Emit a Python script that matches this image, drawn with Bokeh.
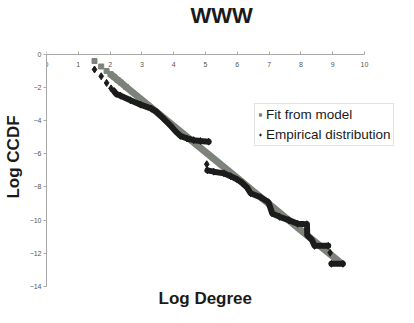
from bokeh.plotting import figure
from bokeh.models import FixedTicker, Range1d, Legend, LegendItem, Title
from bokeh.embed import file_html
from bokeh.resources import INLINE

nan = float("nan")

x_ticks = [0, 1, 2, 3, 4, 5, 6, 7, 8, 9, 10]
y_ticks = [0, -2, -4, -6, -8, -10, -12, -14]

# Fit from model (log degree, log CCDF)
fit_x = [1.51, 1.72, 1.89, 2.01, 2.13, 2.24, 2.34, 2.50, 3.00, 3.50, 4.00, 4.50,
         5.00, 5.50, 6.00, 6.50, 7.00, 7.50, 8.00, 8.50, 9.00, 9.30]
fit_y = [-0.41, -0.74, -1.01, -1.20, -1.38, -1.56, -1.71, -1.97, -2.75, -3.54, -4.32, -5.11,
         -5.89, -6.68, -7.46, -8.25, -9.03, -9.82, -10.61, -11.39, -12.18, -12.65]

# Empirical distribution (nan = break in the trace)
emp_x = [1.51, 1.72, 1.89, 2.03, 2.12, 2.19, 2.33, 2.64, 2.96, 3.30, 3.48, 3.69, 3.90,
         4.06, 4.21, 4.42, 4.63, 4.84, 5.10, nan, 5.04, nan, 5.06, 5.26, 5.58, 5.79,
         6.00, 6.15, 6.31, 6.42, 6.73, 6.98, 7.10, 7.33, 7.62, 7.90, 8.19, 8.20, 8.35,
         8.43, 8.86, nan, 8.92, nan, 8.96, 9.32]
emp_y = [-0.92, -1.33, -1.73, -2.06, -2.22, -2.39, -2.50, -2.78, -3.04, -3.28, -3.50, -3.90, -4.30,
         -4.65, -4.92, -5.08, -5.18, -5.23, -5.27, nan, -6.63, nan, -7.00, -7.08, -7.18, -7.35,
         -7.55, -7.75, -8.04, -8.38, -8.62, -8.92, -9.60, -9.80, -10.00, -10.22, -10.25, -10.90, -11.20,
         -11.55, -11.55, nan, -11.97, nan, -12.63, -12.63]

FONT = "Liberation Sans"
GRAY = "#7d837b"
BLACK = "#1c1c1c"

p = figure(width=398, height=307, output_backend="svg", toolbar_location=None,
           x_range=Range1d(0, 11.07), y_range=Range1d(-14, 1.61), x_axis_location="above",
           min_border_left=38, min_border_right=0, min_border_top=26, min_border_bottom=14,
           title="WWW")
p.grid.visible = False
p.outline_line_color = None
p.background_fill_color = "white"
p.border_fill_color = "white"

p.title.text_font = FONT
p.title.text_font_size = "22px"
p.title.text_font_style = "bold"
p.title.text_color = "#1a1a1a"
p.title.align = "left"
p.title.offset = 144
p.title.standoff = 0

xa = p.xaxis[0]
xa.ticker = FixedTicker(ticks=x_ticks)
xa.bounds = (0, 10)
xa.fixed_location = 0
xa.major_tick_out = 3
xa.major_tick_in = 0
xa.minor_tick_out = 0
xa.minor_tick_in = 0
xa.major_label_standoff = -16
xa.major_label_text_font = FONT
xa.major_label_text_font_size = "7px"
xa.major_label_text_color = "#555555"
xa.axis_line_color = "#a8a8a8"
xa.major_tick_line_color = "#a8a8a8"

ya = p.yaxis[0]
ya.ticker = FixedTicker(ticks=y_ticks)
ya.bounds = (-14, 0)
ya.major_tick_out = 3
ya.major_tick_in = 0
ya.minor_tick_out = 0
ya.minor_tick_in = 0
ya.major_label_standoff = 2
ya.major_label_text_font = FONT
ya.major_label_text_font_size = "7px"
ya.major_label_text_color = "#555555"
ya.axis_line_color = "#a8a8a8"
ya.major_tick_line_color = "#a8a8a8"
ya.axis_label = "Log CCDF"
ya.axis_label_text_font = FONT
ya.axis_label_text_font_size = "17px"
ya.axis_label_text_font_style = "bold"
ya.axis_label_text_color = "#1a1a1a"
ya.axis_label_standoff = 4

xlabel = Title(text="Log Degree", text_font=FONT, text_font_size="17px",
               text_font_style="bold", text_color="#1a1a1a",
               align="left", offset=112, standoff=0)
p.add_layout(xlabel, "below")

# Fit from model
p.line(fit_x[3:], fit_y[3:], line_color=GRAY, line_width=7, line_cap="butt")
fit_sc = p.scatter(fit_x[:8], fit_y[:8], marker="square", size=5,
                   fill_color=GRAY, line_color=GRAY)

# Empirical
p.line(emp_x[4:], emp_y[4:], line_color=BLACK, line_width=6, line_cap="round", line_join="round")
emp_sc = p.scatter(emp_x, emp_y, marker="diamond", size=7,
                   fill_color=BLACK, line_color=BLACK)

legend = Legend(items=[LegendItem(label="Fit from model", renderers=[fit_sc]),
                       LegendItem(label="Empirical distribution", renderers=[emp_sc])],
                location=(208, 140))
legend.label_text_font = FONT
legend.label_text_font_size = "13.5px"
legend.label_text_color = "#1a1a1a"
legend.border_line_color = "#c8c8c8"
legend.border_line_width = 1
legend.background_fill_color = "white"
legend.background_fill_alpha = 1
legend.glyph_width = 6
legend.glyph_height = 17
legend.label_height = 17
legend.label_standoff = 3
legend.padding = 2
legend.spacing = 3
legend.margin = 0
p.add_layout(legend)

open("out.html", "w").write(file_html(p, INLINE))
